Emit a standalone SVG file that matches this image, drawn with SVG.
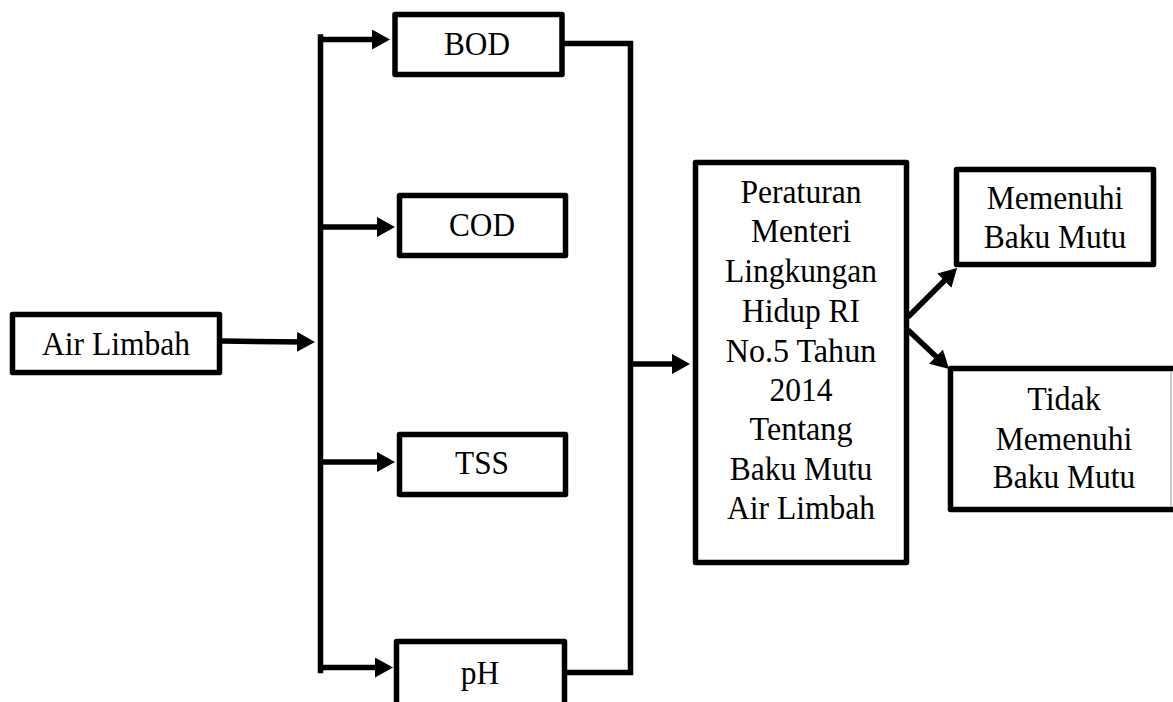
<svg xmlns="http://www.w3.org/2000/svg" width="1173" height="702" viewBox="0 0 1173 702">
<defs>
<style>
.box{fill:#fff;stroke:#000;stroke-width:5.5;stroke-linejoin:round}
.ln{fill:none;stroke:#000;stroke-width:5.5}
.t{font-family:"Liberation Serif","Times New Roman",serif;font-size:33px;fill:#000;text-anchor:middle}
</style>
<marker id="ah" viewBox="0 0 18 20" refX="8" refY="10" markerWidth="18" markerHeight="20" markerUnits="userSpaceOnUse" orient="auto">
<path d="M0,0 L18,10 L0,20 Z" fill="#000"/>
</marker>
</defs>
<rect width="1173" height="702" fill="#fff"/>
<g id="connectors">
<line class="ln" x1="222" y1="341" x2="305" y2="342" marker-end="url(#ah)"/>
<path class="ln" d="M320.5,37 V670.5" stroke-linecap="square"/>
<line class="ln" x1="318" y1="39.5" x2="380" y2="39.5" marker-end="url(#ah)"/>
<line class="ln" x1="318" y1="227" x2="385" y2="227" marker-end="url(#ah)"/>
<line class="ln" x1="318" y1="462" x2="385" y2="462" marker-end="url(#ah)"/>
<line class="ln" x1="318" y1="667.5" x2="383" y2="667.5" marker-end="url(#ah)"/>
<path class="ln" d="M563,43.5 H630.5 V672.5 H565" stroke-linejoin="miter"/>
<line class="ln" x1="630" y1="364" x2="680" y2="364" marker-end="url(#ah)"/>
<line class="ln" x1="908" y1="317" x2="950" y2="275" marker-end="url(#ah)"/>
<line class="ln" x1="908" y1="330" x2="941.8" y2="362.1" marker-end="url(#ah)"/>
</g>
<g id="air-limbah">
<rect class="box" x="12.5" y="314.5" width="207" height="58"/>
<text class="t" x="116" y="355" textLength="148" lengthAdjust="spacingAndGlyphs">Air Limbah</text>
</g>
<g id="bod">
<rect class="box" x="395" y="14.5" width="167" height="60"/>
<text class="t" x="477" y="55" textLength="66" lengthAdjust="spacingAndGlyphs">BOD</text>
</g>
<g id="cod">
<rect class="box" x="399.5" y="195.5" width="166" height="60"/>
<text class="t" x="482" y="236" textLength="66" lengthAdjust="spacingAndGlyphs">COD</text>
</g>
<g id="tss">
<rect class="box" x="399.5" y="434.5" width="166" height="60"/>
<text class="t" x="482" y="474" textLength="54" lengthAdjust="spacingAndGlyphs">TSS</text>
</g>
<g id="ph">
<rect class="box" x="396.5" y="641.5" width="168" height="70"/>
<text class="t" x="480" y="684" textLength="38.5" lengthAdjust="spacingAndGlyphs">pH</text>
</g>
<g id="peraturan">
<rect class="box" x="695.5" y="162.5" width="211" height="400"/>
<text class="t" x="801" y="203" textLength="121" lengthAdjust="spacingAndGlyphs">Peraturan</text>
<text class="t" x="801" y="242" textLength="100" lengthAdjust="spacingAndGlyphs">Menteri</text>
<text class="t" x="801" y="282" textLength="152" lengthAdjust="spacingAndGlyphs">Lingkungan</text>
<text class="t" x="801" y="322" textLength="118" lengthAdjust="spacingAndGlyphs">Hidup RI</text>
<text class="t" x="801" y="362" textLength="150.5" lengthAdjust="spacingAndGlyphs">No.5 Tahun</text>
<text class="t" x="801" y="401" textLength="63" lengthAdjust="spacingAndGlyphs">2014</text>
<text class="t" x="801" y="440" textLength="103" lengthAdjust="spacingAndGlyphs">Tentang</text>
<text class="t" x="801" y="480" textLength="142.5" lengthAdjust="spacingAndGlyphs">Baku Mutu</text>
<text class="t" x="801" y="519" textLength="148" lengthAdjust="spacingAndGlyphs">Air Limbah</text>
</g>
<g id="memenuhi">
<rect class="box" x="956.5" y="169.5" width="197" height="95"/>
<text class="t" x="1055" y="209" textLength="136.5" lengthAdjust="spacingAndGlyphs">Memenuhi</text>
<text class="t" x="1055" y="248" textLength="142.5" lengthAdjust="spacingAndGlyphs">Baku Mutu</text>
</g>
<g id="tidak-memenuhi">
<rect class="box" x="950.5" y="368.5" width="240" height="141"/>
<line x1="1171" y1="371" x2="1171" y2="507" stroke="#999" stroke-width="1"/>
<text class="t" x="1064" y="410" textLength="73.5" lengthAdjust="spacingAndGlyphs">Tidak</text>
<text class="t" x="1064" y="450" textLength="136.5" lengthAdjust="spacingAndGlyphs">Memenuhi</text>
<text class="t" x="1064" y="488" textLength="142.5" lengthAdjust="spacingAndGlyphs">Baku Mutu</text>
</g>
</svg>
